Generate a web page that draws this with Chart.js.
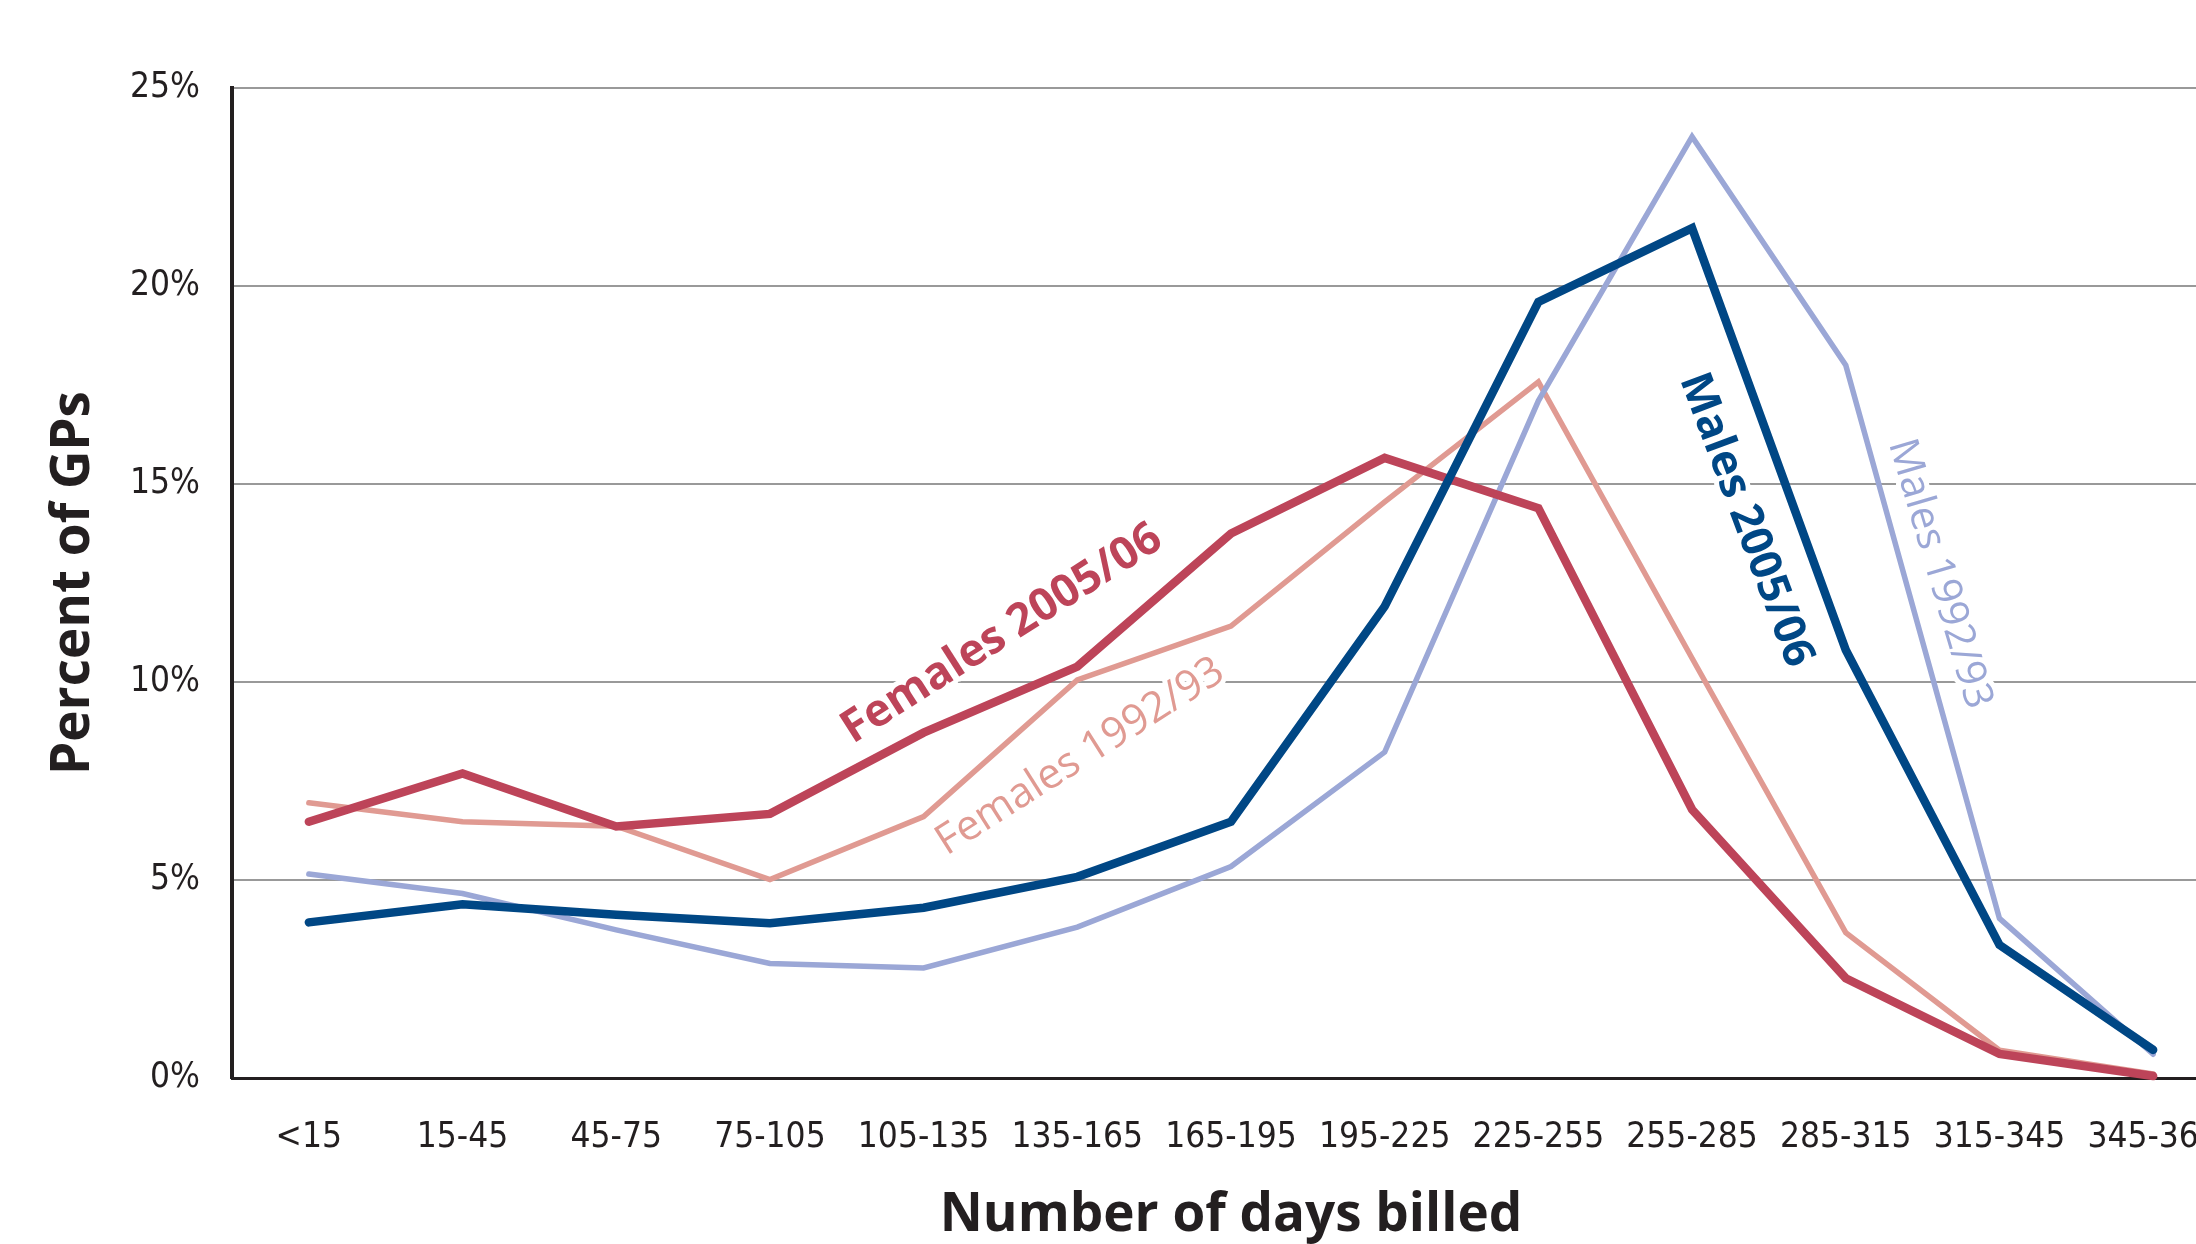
<!DOCTYPE html>
<html>
<head>
<meta charset="utf-8">
<script src="https://cdn.jsdelivr.net/npm/chart.js@4.4.1/dist/chart.umd.min.js"></script>
<style>
  html, body { margin: 0; padding: 0; background: #ffffff; overflow: hidden; }
  #wrap { width: 2196px; height: 1244px; overflow: hidden; position: relative; background: #fff; }
  canvas { display: block; }
</style>
</head>
<body>
<div id="wrap"><canvas id="c" width="2240" height="1244" style="width:2240px;height:1244px"></canvas></div>
<script>
const categories = ['<15','15-45','45-75','75-105','105-135','135-165','165-195','195-225','225-255','255-285','285-315','315-345','345-365'];
const females2005 = [6.47, 7.69, 6.35, 6.67, 8.72, 10.39, 13.75, 15.66, 14.39, 6.78, 2.52, 0.61, 0.05];
const females1992 = [6.95, 6.47, 6.36, 5.01, 6.60, 10.05, 11.41, 14.55, 17.58, 10.60, 3.67, 0.70, 0.10];
const males2005   = [3.93, 4.39, 4.12, 3.91, 4.30, 5.08, 6.47, 11.91, 19.60, 21.46, 10.81, 3.36, 0.71];
const males1992   = [5.15, 4.66, 3.74, 2.89, 2.78, 3.81, 5.34, 8.23, 17.10, 23.77, 18.00, 4.03, 0.60];
const yTicks = [0, 5, 10, 15, 20, 25];
const yTitle = 'Percent of GPs';
const xTitle = 'Number of days billed';

// line labels anchored in data units (category index, percent)
const lineLabels = [
  { text: 'Females 2005/06', xi: 4.51, v: 11.21, angle: -32.5, color: '#BD4459', font: 'bold 45px "Open Sans"' },
  { text: 'Females 1992/93', xi: 5.02, v: 8.11, angle: -32.4, color: '#E09A92', font: '42px "Open Sans"' },
  { text: 'Males 2005/06', xi: 9.35, v: 14.09, angle: 69.5, color: '#004785', font: 'bold 44px "Open Sans"' },
  { text: 'Males 1992/93', xi: 10.61, v: 12.73, angle: 73.5, color: '#9BA7D6', font: '41px "Open Sans"' }
];

const labelPlugin = {
  id: 'lineLabels',
  beforeDatasetsDraw(chart) {
    const ctx = chart.ctx;
    const xs = chart.scales.x, ys = chart.scales.y;
    lineLabels.forEach(l => {
      const p0 = xs.getPixelForValue(Math.floor(l.xi));
      const p1 = xs.getPixelForValue(Math.floor(l.xi) + 1);
      const px = p0 + (p1 - p0) * (l.xi - Math.floor(l.xi));
      const py = ys.getPixelForValue(l.v);
      ctx.save();
      ctx.translate(px, py);
      ctx.rotate(l.angle * Math.PI / 180);
      ctx.font = l.font;
      ctx.textAlign = 'center';
      ctx.textBaseline = 'middle';
      ctx.lineJoin = 'round';
      ctx.strokeStyle = '#ffffff';
      ctx.lineWidth = 10;
      ctx.strokeText(l.text, 0, 0);
      ctx.fillStyle = l.color;
      ctx.fillText(l.text, 0, 0);
      ctx.restore();
    });
  }
};

const mk = (data, color, width, order) => ({
  data, borderColor: color, backgroundColor: color, borderWidth: width,
  pointRadius: 0, pointHoverRadius: 0, tension: 0, fill: false,
  borderCapStyle: 'round', borderJoinStyle: 'miter', clip: false, order
});

new Chart(document.getElementById('c'), {
  type: 'line',
  data: {
    labels: categories,
    datasets: [
      mk(males2005, '#004785', 8.5, 0),
      mk(females2005, '#BD4459', 8.5, 1),
      mk(males1992, '#9BA7D6', 5.5, 2),
      mk(females1992, '#E09A92', 5.5, 3)
    ]
  },
  options: {
    responsive: false,
    animation: false,
    devicePixelRatio: 1,
    events: [],
    layout: { padding: { left: 0, top: 88, right: 10, bottom: 0 } },
    plugins: { legend: { display: false }, tooltip: { enabled: false }, title: { display: false } },
    scales: {
      x: {
        type: 'category',
        offset: true,
        afterFit(s) { s.height = 166; s.paddingLeft = 0; s.paddingRight = 0; },
        grid: { display: false, drawTicks: false },
        border: { display: true, color: '#231F20', width: 3 },
        ticks: {
          color: '#231F20', padding: 39, maxRotation: 0, autoSkip: false,
          font: { family: '"Liberation Sans Narrow", "DejaVu Sans Condensed", sans-serif', size: 35 }
        },
        title: {
          display: true, text: xTitle, color: '#231F20',
          font: { family: '"Open Sans"', size: 53, weight: 'bold', lineHeight: 1 },
          padding: { top: 0, bottom: 1.5 }
        }
      },
      y: {
        min: 0, max: 25,
        afterFit(s) { s.width = 232; },
        afterBuildTicks(s) { s.ticks = yTicks.map(v => ({ value: v })); },
        grid: { color: '#999999', lineWidth: 2, drawTicks: false },
        border: { display: true, color: '#231F20', width: 4 },
        ticks: {
          color: '#231F20', padding: 32,
          callback: v => v + '%',
          font: { family: '"Liberation Sans Narrow", "DejaVu Sans Condensed", sans-serif', size: 35 }
        },
        title: {
          display: true, text: yTitle, color: '#231F20',
          font: { family: '"Open Sans"', size: 53, weight: 'bold', lineHeight: 1 },
          padding: { top: 47, bottom: 0 }
        }
      }
    }
  },
  plugins: [labelPlugin]
});
</script>
</body>
</html>
